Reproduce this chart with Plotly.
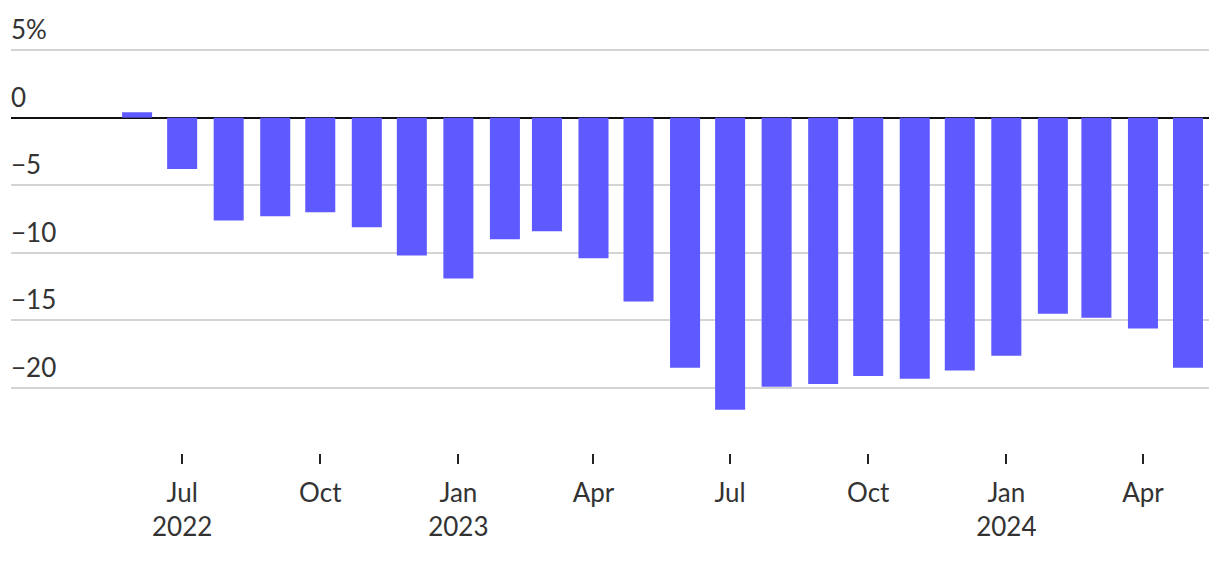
import plotly.graph_objects as go
import pandas as pd

months = pd.date_range("2022-06-01", "2024-05-01", freq="MS")
values = [0.4, -3.8, -7.6, -7.3, -7.0, -8.1, -10.2, -11.9, -9.0, -8.4, -10.4, -13.6,
          -18.5, -21.6, -19.9, -19.7, -19.1, -19.3, -18.7, -17.6, -14.5, -14.8, -15.6, -18.5]

tick_dates = ["2022-07-01", "2022-10-01", "2023-01-01", "2023-04-01",
              "2023-07-01", "2023-10-01", "2024-01-01", "2024-04-01"]
tick_text = ["Jul<br>2022", "Oct", "Jan<br>2023", "Apr", "Jul", "Oct", "Jan<br>2024", "Apr"]

y_ticks = [5, 0, -5, -10, -15, -20]
y_labels = ["5%", "0", "\u22125", "\u221210", "\u221215", "\u221220"]

FONT = "Lato, 'Open Sans', sans-serif"
TEXT = "#333333"

fig = go.Figure()
fig.add_trace(go.Bar(
    x=months, y=values,
    width=20 * 86400000,
    marker=dict(color="#5f5aff", line=dict(width=0)),
    hoverinfo="x+y",
))

for v, lab in zip(y_ticks, y_labels):
    fig.add_annotation(x=0, xref="paper", y=v, yref="y", text=lab,
                       showarrow=False, xanchor="left", yanchor="bottom",
                       xshift=-2, yshift=3, font=dict(family=FONT, size=26, color=TEXT))

fig.update_layout(
    width=1220, height=562,
    margin=dict(l=11, r=11, t=46, b=109),
    plot_bgcolor="white", paper_bgcolor="white",
    showlegend=False,
    font=dict(family=FONT, size=26, color=TEXT),
    xaxis=dict(
        type="date",
        range=["2022-03-09", "2024-05-15"],
        tickvals=tick_dates, ticktext=tick_text,
        ticks="outside", ticklen=10, tickwidth=2, tickcolor="#222222",
        showgrid=False, showline=False, zeroline=False,
        tickfont=dict(family=FONT, size=26, color=TEXT),
        ticklabelstandoff=7,
    ),
    yaxis=dict(
        range=[-24.8, 5.3],
        tickvals=[5, -5, -10, -15, -20],
        showticklabels=False,
        showgrid=True, gridcolor="#d4d4d4", gridwidth=2,
        zeroline=True, zerolinecolor="#111111", zerolinewidth=2,
        ticks="",
    ),
)

fig.write_html("out.html",
               config={"displayModeBar": False},
               post_script="document.body.style.margin='0';document.body.style.padding='0';")
